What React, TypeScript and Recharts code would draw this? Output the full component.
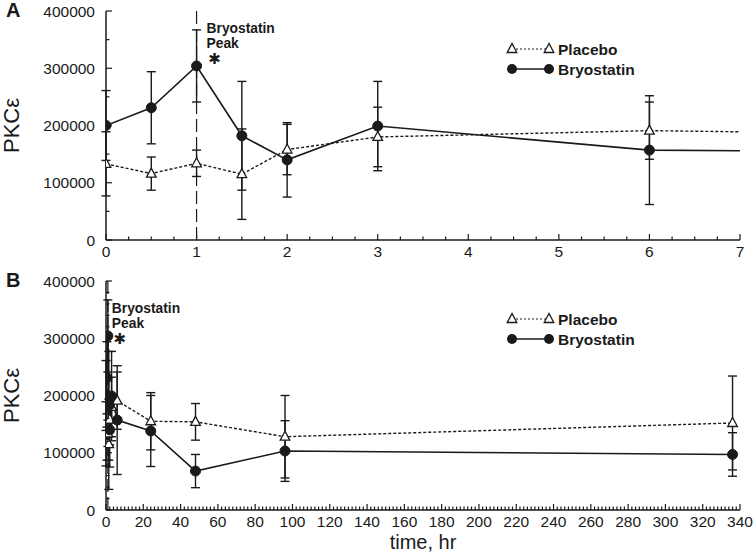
import React from 'react'
import { LineChart, Line, XAxis, YAxis, ErrorBar, ReferenceLine, Legend } from 'recharts'

// hours after dosing, shared by both panels
const times = [0, 0.5, 1, 1.5, 2, 3, 6, 24, 48, 96, 336]
const placebo = [133000, 116000, 134000, 115000, 158000, 180000, 191000, 155000, 154000, 128000, 152000]
const placeboErr = [56000, 29000, 23000, 79000, 44000, 52000, 50000, 50000, 32000, 72000, 82000]
const bryostatin = [200000, 231000, 304000, 182000, 140000, 199000, 157000, 138000, 68000, 103000, 97000]
const bryostatinErr = [61000, 63000, 63000, 95000, 65000, 78000, 95000, 62000, 29000, 53000, 38000]

const yTicks = [0, 100000, 200000, 300000, 400000]
const xTicksA = [0, 1, 2, 3, 4, 5, 6, 7]
const xTicksB = [0, 20, 40, 60, 80, 100, 120, 140, 160, 180, 200, 220, 240, 260, 280, 300, 320, 340]
const legendOrder = ['placebo', 'bryostatin']

const data = times.map((t, i) => ({
    t,
    placebo: placebo[i],
    placeboErr: placeboErr[i],
    bryostatin: bryostatin[i],
    bryostatinErr: bryostatinErr[i],
}))

const FONT = "'Liberation Sans', Arial, Helvetica, sans-serif"
const INK = '#1a1a1a'

const range = (from: number, to: number, step: number) => {
    const out: number[] = []
    for (let v = from; v <= to + 1e-9; v += step) out.push(Math.round(v * 1000) / 1000)
    return out
}

type Side = 'bottom' | 'top' | 'left' | 'right'

const AxisTick = (props: any) => {
    const { x = 0, y = 0, payload, side, major, labels } = props as {
        x: number; y: number; payload: { value: number }; side: Side; major: number[]; labels: boolean
    }
    const v = payload?.value ?? 0
    const big = major.includes(v)
    const len = big ? 6 : 3.5
    const line = { stroke: INK, strokeWidth: 1.2 }
    if (side === 'bottom') {
        return (
            <g>
                <line x1={x} x2={x} y1={y} y2={y - len} {...line} />
                {labels && big && (
                    <text x={x} y={y + 17} textAnchor="middle" fontFamily={FONT} fontSize={15.5} fill={INK}>{v}</text>
                )}
            </g>
        )
    }
    if (side === 'top') return <line x1={x} x2={x} y1={y} y2={y + len} {...line} />
    if (side === 'right') return <line x1={x} x2={x - len} y1={y} y2={y} {...line} />
    return (
        <g>
            <line x1={x} x2={x + len} y1={y} y2={y} {...line} />
            {labels && big && (
                <text x={x - 11} y={y + 5.5} textAnchor="end" fontFamily={FONT} fontSize={15.5} fill={INK}>{v}</text>
            )}
        </g>
    )
}

const Triangle = ({ cx, cy }: { cx?: number; cy?: number }) => {
    if (cx == null || cy == null) return null
    return (
        <polygon
            points={`${cx},${cy - 5.5} ${cx - 4.8},${cy + 3.5} ${cx + 4.8},${cy + 3.5}`}
            fill="#fff"
            stroke={INK}
            strokeWidth={1.3}
        />
    )
}

const PeakLabel = (props: any) => {
    const { viewBox, dx, dy } = props
    const x = (viewBox?.x ?? 0) + dx
    const y = (viewBox?.y ?? 0) + dy
    return (
        <g fontWeight="bold" fill={INK}>
            <text x={x} y={y} fontSize={13.8} fontFamily={FONT}>Bryostatin</text>
            <text x={x} y={y + 15.2} fontSize={13.8} fontFamily={FONT}>Peak</text>
            <text x={x + 8} y={y + 31} fontSize={15} fontFamily="'DejaVu Sans', sans-serif" textAnchor="middle">✱</text>
        </g>
    )
}

const LegendBox = (props: any) => {
    const items = ([...(props.payload || [])] as { value: string; dataKey: string }[])
        .sort((a, b) => legendOrder.indexOf(a.dataKey) - legendOrder.indexOf(b.dataKey))
    return (
        <svg width={150} height={46} style={{ display: 'block' }}>
            {items.map((it, i) => {
                const cy = 13 + i * 20
                const dotted = it.dataKey === 'placebo'
                return (
                    <g key={it.dataKey}>
                        <line x1={9} x2={46} y1={cy} y2={cy} stroke={INK} strokeWidth={dotted ? 1.2 : 1.6}
                            strokeDasharray={dotted ? '2 2' : undefined} />
                        {dotted ? (
                            <>
                                <Triangle cx={9} cy={cy} />
                                <Triangle cx={46} cy={cy} />
                            </>
                        ) : (
                            <>
                                <circle cx={9} cy={cy} r={5} fill={INK} />
                                <circle cx={46} cy={cy} r={5} fill={INK} />
                            </>
                        )}
                        <text x={55} y={cy + 5.5} fontFamily={FONT} fontWeight="bold" fontSize={15.5} fill={INK}>{it.value}</text>
                    </g>
                )
            })}
        </svg>
    )
}

type PanelProps = {
    letter: string
    height: number
    xMax: number
    xTicks: number[]
    xMinor: number
    yMinor: number
    peak: { dx: number; dy: number }
    xTitle?: string
}

const Panel = ({ letter, height, xMax, xTicks, xMinor, yMinor, peak, xTitle }: PanelProps) => {
    const xAll = range(0, xMax, xMinor)
    const yAll = range(0, 400000, yMinor)
    const axisLine = { stroke: INK, strokeWidth: 1.5 }
    return (
        <LineChart width={754} height={height} data={data} margin={{ top: 11, right: 14, left: 0, bottom: 0 }}>
            <XAxis
                dataKey="t" type="number" domain={[0, xMax]} allowDataOverflow ticks={xAll} interval={0}
                height={height - 240} tickSize={0} tickMargin={0} tickLine={false} axisLine={axisLine}
                tick={(p: any) => <AxisTick {...p} side="bottom" major={xTicks} labels />}
                label={(p: any) =>
                    xTitle ? (
                        <text x={p.viewBox.x + p.viewBox.width / 2} y={p.viewBox.y + 38.5} textAnchor="middle"
                            fontFamily={FONT} fontSize={20} fill={INK}>{xTitle}</text>
                    ) : null
                }
            />
            <XAxis
                xAxisId="top" orientation="top" dataKey="t" type="number" domain={[0, xMax]} allowDataOverflow
                ticks={xAll} interval={0} height={0} tickSize={0} tickMargin={0} tickLine={false} axisLine={axisLine}
                tick={(p: any) => <AxisTick {...p} side="top" major={xTicks} />}
            />
            <YAxis
                type="number" domain={[0, 400000]} ticks={yAll} interval={0} width={106}
                tickSize={0} tickMargin={0} tickLine={false} axisLine={axisLine}
                tick={(p: any) => <AxisTick {...p} side="left" major={yTicks} labels />}
                label={(p: any) => (
                    <g fill={INK} fontFamily={FONT}>
                        <text x={6} y={17} fontSize={20} fontWeight="bold">{letter}</text>
                        <text
                            x={0} y={0} fontSize={22} textAnchor="middle"
                            transform={`translate(19, ${p.viewBox.y + p.viewBox.height / 2}) rotate(-90)`}
                        >PKCε</text>
                    </g>
                )}
            />
            <YAxis
                yAxisId="right" orientation="right" type="number" domain={[0, 400000]} ticks={yAll} interval={0}
                width={0} tickSize={0} tickMargin={0} tickLine={false} axisLine={axisLine}
                tick={(p: any) => <AxisTick {...p} side="right" major={yTicks} />}
            />
            <ReferenceLine
                x={1} stroke={INK} strokeWidth={1.2} strokeDasharray="13 5"
                label={(p: any) => <PeakLabel {...p} dx={peak.dx} dy={peak.dy} />}
            />
            <Legend
                layout="vertical" align="center" verticalAlign="middle"
                wrapperStyle={{ left: 503, top: 36, width: 150, height: 46 }}
                content={(p: any) => <LegendBox {...p} />}
            />
            <Line
                name="Placebo" dataKey="placebo" stroke={INK} strokeWidth={1.4} strokeDasharray="3 2"
                dot={(p: any) => <Triangle key={`p-${p.index}`} cx={p.cx} cy={p.cy} />}
                activeDot={false} isAnimationActive={false}
            >
                <ErrorBar dataKey="placeboErr" direction="y" width={4.5} stroke={INK} strokeWidth={1.4} />
            </Line>
            <Line
                name="Bryostatin" dataKey="bryostatin" stroke={INK} strokeWidth={1.6}
                dot={{ r: 5, fill: INK, stroke: INK, strokeWidth: 1 }}
                activeDot={false} isAnimationActive={false}
            >
                <ErrorBar dataKey="bryostatinErr" direction="y" width={4.5} stroke={INK} strokeWidth={1.4} />
            </Line>
        </LineChart>
    )
}

const App: React.FC = () => {
    return (
        <div style={{ position: 'absolute', left: 0, top: 0, width: 754, height: 553, background: '#fff' }}>
            <div style={{ position: 'absolute', left: 0, top: 0 }}>
                <Panel letter="A" height={270} xMax={7} xTicks={xTicksA} xMinor={0.25} yMinor={50000}
                    peak={{ dx: 10, dy: 21.5 }} />
            </div>
            <div style={{ position: 'absolute', left: 0, top: 270 }}>
                <Panel letter="B" height={283} xMax={340} xTicks={xTicksB} xMinor={2} yMinor={20000}
                    peak={{ dx: 4, dy: 31.5 }} xTitle="time, hr" />
            </div>
        </div>
    )
}

export default App
